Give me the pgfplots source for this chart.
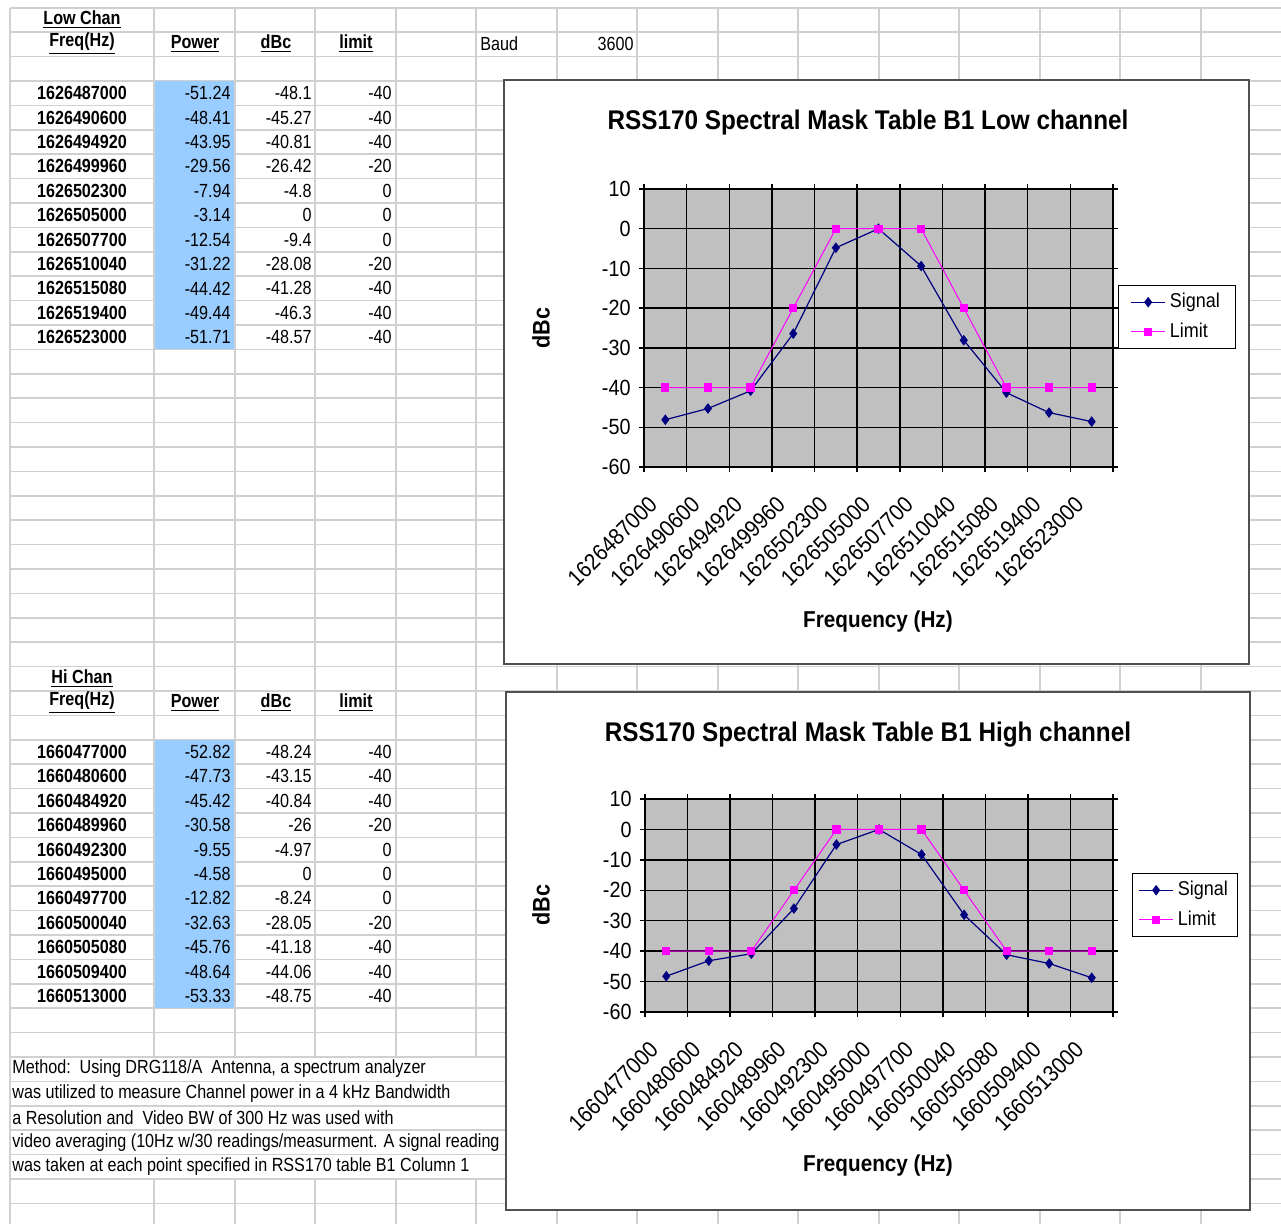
\documentclass[border=0pt]{standalone}
\usepackage{pgfplots}
\pgfplotsset{compat=1.18}
\usepackage{fontspec}
\setmainfont{Liberation Sans}
\newfontfamily\cellfont{Liberation Sans}[FakeStretch=0.85]
\newfontfamily\chartfont{Liberation Sans}[FakeStretch=0.9]
\definecolor{gridc}{HTML}{D0D0D0}
\definecolor{cellblue}{HTML}{99CCFF}
\definecolor{plotgray}{HTML}{C0C0C0}
\definecolor{navyc}{HTML}{000080}
\definecolor{magc}{HTML}{FF00FF}
\definecolor{framec}{HTML}{505050}

\pgfplotsset{mychart/.style={
  scale only axis, xmin=-0.5, xmax=10.5, ymin=-60, ymax=10,
  xtick={0,...,10}, minor xtick={-0.5,0.5,...,10.5},
  ytick={-60,-50,...,10}, minor ytick={-60,-50,...,10},
  yticklabels={-60,-50,-40,-30,-20,-10,0,10},
  major tick length=0pt, minor tick length=2.5pt, tick align=outside,
  ymajorgrids, xminorgrids,
  major grid style={black, line width=0.75pt},
  minor grid style={black, line width=0.75pt},
  minor tick style={black, line width=0.7pt},
  axis line style={black, line width=0.75pt},
  axis background/.style={fill=plotgray},
  yticklabel style={font=\chartfont\fontsize{11}{13}\selectfont, inner sep=1pt, xshift=-5.5pt},
  xticklabel style={font=\chartfont\fontsize{11.5}{13}\selectfont, yshift=-16.5pt, xshift=-6pt, rotate=45, anchor=east, inner sep=0pt},
  legend style={draw=black, fill=white, font=\chartfont\fontsize{10}{12}\selectfont, row sep=2pt, inner ysep=2pt, line width=0.5pt},
  legend cell align=left,
}}
\pgfplotsset{sigstyle/.style={color=navyc, mark=diamond*, mark size=2.2pt, line width=0.6pt},
             limstyle/.style={color=magc, mark=square*, mark size=1.8pt, line width=0.5pt}}

\begin{document}
\begin{tikzpicture}
\begin{scope}[x=0.5pt,y=-0.5pt]
\useasboundingbox (0,0) rectangle (1281,1224);
\fill[white] (0,0) rectangle (1281,1224);
% spreadsheet grid
\foreach \x in {10,154,235,315,396,476} {
  \draw[gridc, line width=0.8pt] (\x,7.8) -- (\x,1057);
  \draw[gridc, line width=0.8pt] (\x,1179) -- (\x,1224);
}
\draw[gridc, line width=0.8pt] (10,1057) -- (10,1179);
\foreach \x in {557,637,718,798,879,959,1040,1120,1201} {
  \draw[gridc, line width=0.8pt] (\x,7.8) -- (\x,1224);
}
\foreach \k in {0,...,49} {
  \draw[gridc, line width=0.8pt] (10,{7.8+24.4*\k}) -- (1281,{7.8+24.4*\k});
}
% blue cells
\fill[cellblue] (155,81) rectangle (234,349.4);
\fill[cellblue] (155,739.8) rectangle (234,1008.2);
% headers
\begin{scope}[every node/.style={font=\cellfont\bfseries\fontsize{9.5}{11}\selectfont, inner sep=0pt}]
\node at (82,20) {\underline{Low Chan}};
\node at (82,44) {\underline{Freq(Hz)}};
\node at (195,44) {\underline{Power}};
\node at (276,44) {\underline{dBc}};
\node at (356,44) {\underline{limit}};
\node at (82,679) {\underline{Hi Chan}};
\node at (82,703) {\underline{Freq(Hz)}};
\node at (195,703) {\underline{Power}};
\node at (276,703) {\underline{dBc}};
\node at (356,703) {\underline{limit}};
\end{scope}
\begin{scope}[every node/.style={font=\cellfont\fontsize{9.5}{11}\selectfont, inner sep=0pt}]
\node[anchor=west] at (480,44) {Baud};
\node[anchor=east] at (634,44) {3600};
\foreach \n/\f/\p/\d/\l in {
 3/1626487000/-51.24/-48.1/-40,
 4/1626490600/-48.41/-45.27/-40,
 5/1626494920/-43.95/-40.81/-40,
 6/1626499960/-29.56/-26.42/-20,
 7/1626502300/-7.94/-4.8/0,
 8/1626505000/-3.14/0/0,
 9/1626507700/-12.54/-9.4/0,
 10/1626510040/-31.22/-28.08/-20,
 11/1626515080/-44.42/-41.28/-40,
 12/1626519400/-49.44/-46.3/-40,
 13/1626523000/-51.71/-48.57/-40,
 30/1660477000/-52.82/-48.24/-40,
 31/1660480600/-47.73/-43.15/-40,
 32/1660484920/-45.42/-40.84/-40,
 33/1660489960/-30.58/-26/-20,
 34/1660492300/-9.55/-4.97/0,
 35/1660495000/-4.58/0/0,
 36/1660497700/-12.82/-8.24/0,
 37/1660500040/-32.63/-28.05/-20,
 38/1660505080/-45.76/-41.18/-40,
 39/1660509400/-48.64/-44.06/-40,
 40/1660513000/-53.33/-48.75/-40} {
  \node[font=\cellfont\bfseries\fontsize{9.5}{11}\selectfont] at (82,{20+24.4*\n}) {\f};
  \node[anchor=east] at (231,{20+24.4*\n}) {\p};
  \node[anchor=east] at (312,{20+24.4*\n}) {\d};
  \node[anchor=east] at (392,{20+24.4*\n}) {\l};
}
\node[anchor=west] at (12,1069) {Method:\ \ Using DRG118/A\ \ Antenna, a spectrum analyzer};
\node[anchor=west] at (12,1093.4) {was utilized to measure Channel power in a 4 kHz Bandwidth};
\node[anchor=west] at (12,1117.8) {a Resolution and\ \ Video BW of 300 Hz was used with};
\node[anchor=west] at (12,1142.2) {video averaging (10Hz w/30 readings/measurment. A signal reading};
\node[anchor=west] at (12,1166.6) {was taken at each point specified in RSS170 table B1 Column 1};
\end{scope}
% chart frames
\draw[framec, line width=1pt, fill=white] (504,80) rectangle (1249,664);
\draw[framec, line width=1pt, fill=white] (506,692) rectangle (1250,1210);
% chart titles
\node[font=\chartfont\bfseries\fontsize{13.5}{16}\selectfont] at (868,123) {RSS170 Spectral Mask Table B1 Low channel};
\node[font=\chartfont\bfseries\fontsize{13.5}{16}\selectfont] at (868,735) {RSS170 Spectral Mask Table B1 High channel};
\node[font=\chartfont\bfseries\fontsize{12}{14}\selectfont, rotate=90] at (541,328) {dBc};
\node[font=\chartfont\bfseries\fontsize{12}{14}\selectfont, rotate=90] at (541,905) {dBc};
\node[font=\chartfont\bfseries\fontsize{11.5}{14}\selectfont] at (878,622) {Frequency (Hz)};
\node[font=\chartfont\bfseries\fontsize{11.5}{14}\selectfont] at (878,1166) {Frequency (Hz)};
\end{scope}

\begin{axis}[mychart, at={(322pt,-233.5pt)}, anchor=south west, width=234.5pt, height=139pt,
  xticklabels={1626487000,1626490600,1626494920,1626499960,1626502300,1626505000,1626507700,1626510040,1626515080,1626519400,1626523000},
  legend style={at={(1.0107,0.655)}, anchor=north west, inner xsep=6pt}]
\addplot[sigstyle] coordinates {(0,-48.1) (1,-45.27) (2,-40.81) (3,-26.42) (4,-4.8) (5,0) (6,-9.4) (7,-28.08) (8,-41.28) (9,-46.3) (10,-48.57)};
\addplot[limstyle] coordinates {(0,-40) (1,-40) (2,-40) (3,-20) (4,0) (5,0) (6,0) (7,-20) (8,-40) (9,-40) (10,-40)};
\legend{Signal,Limit}
\end{axis}

\begin{axis}[mychart, at={(322.5pt,-506pt)}, anchor=south west, width=234pt, height=106.5pt,
  xticklabels={1660477000,1660480600,1660484920,1660489960,1660492300,1660495000,1660497700,1660500040,1660505080,1660509400,1660513000},
  legend style={at={(1.0406,0.6526)}, anchor=north west, inner xsep=3pt}]
\addplot[sigstyle] coordinates {(0,-48.24) (1,-43.15) (2,-40.84) (3,-26) (4,-4.97) (5,0) (6,-8.24) (7,-28.05) (8,-41.18) (9,-44.06) (10,-48.75)};
\addplot[limstyle] coordinates {(0,-40) (1,-40) (2,-40) (3,-20) (4,0) (5,0) (6,0) (7,-20) (8,-40) (9,-40) (10,-40)};
\legend{Signal,Limit}
\end{axis}
\end{tikzpicture}
\end{document}
